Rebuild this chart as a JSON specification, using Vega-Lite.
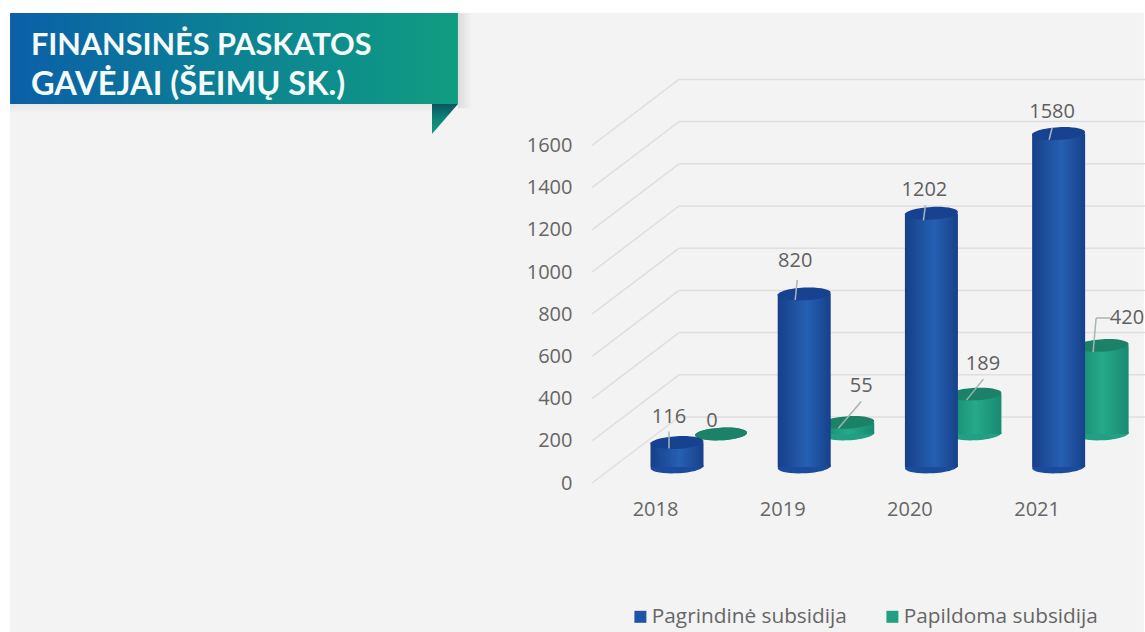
{
"$schema":"https://vega.github.io/schema/vega-lite/v6.json",
"width":1145,"height":632,"padding":0,
"autosize":"none",
"background":"#ffffff",
"config":{"view":{"stroke":null},"text":{"font":"Open Sans","fontSize":20,"fill":"#5f5f5f"}},
"data":{"values":[
{"year":2018,"series":"Pagrindinė subsidija","value":116},
{"year":2019,"series":"Pagrindinė subsidija","value":820},
{"year":2020,"series":"Pagrindinė subsidija","value":1202},
{"year":2021,"series":"Pagrindinė subsidija","value":1580},
{"year":2018,"series":"Papildoma subsidija","value":0},
{"year":2019,"series":"Papildoma subsidija","value":55},
{"year":2020,"series":"Papildoma subsidija","value":189},
{"year":2021,"series":"Papildoma subsidija","value":420}]},
"layer":[
{"data":{"values":[{"a":1}]},"mark":{"type":"rect","fill":"#f3f3f3"},"encoding":{"x":{"datum":2012.757,"type":"quantitative","scale":{"domain":[2012.678,2021.679],"nice":false,"zero":false,"padding":0},"axis":{"title":null,"grid":false,"domain":false,"ticks":false,"zindex":1,"values":[2018,2019,2020,2021],"format":"d","labelFont":"Open Sans","labelFontSize":20,"labelColor":"#666666","labelPadding":0,"labelOffset":-22,"offset":-133}},"x2":{"datum":2021.67},"y":{"datum":2151.7,"type":"quantitative","scale":{"domain":[-782,2213.3],"nice":false,"zero":false,"padding":0},"axis":{"title":null,"grid":false,"domain":false,"ticks":false,"zindex":1,"values":[0,200,400,600,800,1000,1200,1400,1600],"format":"d","labelFont":"Open Sans","labelFontSize":20,"labelColor":"#666666","labelPadding":0,"labelOffset":16,"offset":-572}},"y2":{"datum":-782}}},
{"data":{"values":[{"a":2}]},"mark":{"type":"rect","fill":{"gradient":"linear","x1":0,"y1":0,"x2":1,"y2":0,"stops":[{"offset":0,"color":"#dcdcdc"},{"offset":1,"color":"#f3f3f3"}]}},"encoding":{"x":{"datum":2016.278,"type":"quantitative"},"x2":{"datum":2016.388},"y":{"datum":2151.7,"type":"quantitative"},"y2":{"datum":1700}}},
{"data":{"values":[{"a":3}]},"mark":{"type":"rect","fill":{"gradient":"linear","x1":0,"y1":0,"x2":0,"y2":1,"stops":[{"offset":0,"color":"#e6e6e6"},{"offset":1,"color":"#f3f3f3"}]}},"encoding":{"x":{"datum":2012.757,"type":"quantitative"},"x2":{"datum":2016.074},"y":{"datum":1720.4,"type":"quantitative"},"y2":{"datum":1675}}},
{"data":{"values":[{"a":4}]},"mark":{"type":"rect","fill":{"gradient":"linear","x1":0,"y1":0,"x2":1,"y2":0,"stops":[{"offset":0,"color":"#0b5fa8"},{"offset":0.55,"color":"#0c8592"},{"offset":1,"color":"#109c81"}]}},"encoding":{"x":{"datum":2012.757,"type":"quantitative"},"x2":{"datum":2016.278},"y":{"datum":2151.7,"type":"quantitative"},"y2":{"datum":1720.4}}},
{"data":{"values":[{"a":5}]},"mark":{"type":"point","filled":true,"opacity":1,"strokeWidth":0,"size":676,"shape":"M-1,-1.15L1,-1.15L-1,1.15Z","fill":{"gradient":"linear","x1":0,"y1":0,"x2":0,"y2":1,"stops":[{"offset":0,"color":"#0a5560"},{"offset":0.5,"color":"#0d8478"},{"offset":1,"color":"#109c81"}]}},"encoding":{"x":{"datum":2016.176,"type":"quantitative"},"y":{"datum":1649.3,"type":"quantitative"}}},
{"data":{"values":[{"a":6}]},"mark":{"type":"text","text":"FINANSINĖS PASKATOS","font":"Lato","fontWeight":"bold","fontSize":30.6,"fill":"#f4fafa","align":"left","baseline":"alphabetic"},"encoding":{"x":{"datum":2012.921,"type":"quantitative"},"y":{"datum":1952.6,"type":"quantitative"}}},
{"data":{"values":[{"a":7}]},"mark":{"type":"text","text":"GAVĖJAI (ŠEIMŲ SK.)","font":"Lato","fontWeight":"bold","fontSize":32.6,"fill":"#f4fafa","align":"left","baseline":"alphabetic"},"encoding":{"x":{"datum":2012.921,"type":"quantitative"},"y":{"datum":1763,"type":"quantitative"}}},
{"data":{"values":[{"v":0},{"v":200},{"v":400},{"v":600},{"v":800},{"v":1000},{"v":1200},{"v":1400},{"v":1600}]},"mark":{"type":"rule","color":"#dfdfdf","strokeWidth":1.5,"yOffset":-50,"y2Offset":-50},"encoding":{"x":{"datum":2018.016,"type":"quantitative"},"x2":{"datum":2021.679},"y":{"field":"v","type":"quantitative"}}},
{"data":{"values":[{"v":0},{"v":200},{"v":400},{"v":600},{"v":800},{"v":1000},{"v":1200},{"v":1400},{"v":1600}]},"mark":{"type":"rule","color":"#dfdfdf","strokeWidth":1.5,"yOffset":16,"y2Offset":-50},"encoding":{"x":{"datum":2017.332,"type":"quantitative"},"x2":{"datum":2018.016},"y":{"field":"v","type":"quantitative"},"y2":{"field":"v"}}},
{"transform":[{"filter":"datum.series=='Papildoma subsidija'"}],"mark":{"type":"point","filled":true,"opacity":1,"strokeWidth":0,"size":2704,"xOffset":44,"yOffset":-33,"shape":"M-1,0.05A1,0.24,-3,1,0,1,-0.05A1,0.24,-3,1,0,-1,0.05Z"},"encoding":{"x":{"field":"year","type":"quantitative"},"y":{"datum":0,"type":"quantitative"},"color":{"field":"series","type":"nominal","sort":["Pagrindinė subsidija","Papildoma subsidija"],"scale":{"domain":["Pagrindinė subsidija","Papildoma subsidija"],"range":["#1f55a5","#21a082"]},"legend":{"orient":"none","legendX":630,"legendY":606,"direction":"horizontal","columns":2,"title":null,"padding":0,"symbolType":"square","symbolSize":144,"symbolStrokeWidth":0,"labelFont":"Open Sans","labelFontSize":20.8,"labelColor":"#666666","labelOffset":1,"labelLimit":400,"columnPadding":35}}}},
{"encoding":{"x":{"field":"year","type":"quantitative"},"y":{"field":"value","type":"quantitative"}},"layer":[
{"transform":[{"filter":"datum.series=='Papildoma subsidija'"}],"mark":{"type":"bar","orient":"vertical","width":52,"xOffset":44,"yOffset":-33,"y2Offset":-33,"fill":{"gradient":"linear","x1":0,"y1":0,"x2":1,"y2":0,"stops":[{"offset":0,"color":"#178a6d"},{"offset":0.5,"color":"#26a98a"},{"offset":1,"color":"#198a70"}]}},"encoding":{"y2":{"datum":0}}},
{"transform":[{"filter":"datum.series=='Papildoma subsidija'"}],"mark":{"type":"point","filled":true,"opacity":1,"strokeWidth":0,"size":2704,"xOffset":44,"yOffset":-33,"fill":"#1b8268","shape":"M-1,0.05A1,0.24,-3,1,0,1,-0.05A1,0.24,-3,1,0,-1,0.05Z"}}
]},
{"transform":[{"filter":"datum.series=='Pagrindinė subsidija'"}],"mark":{"type":"point","filled":true,"opacity":1,"strokeWidth":0,"size":2809,"fill":"#1a4b9c","shape":"M-1,0.05A1,0.24,-3,1,0,1,-0.05A1,0.24,-3,1,0,-1,0.05Z"},"encoding":{"x":{"field":"year","type":"quantitative"},"y":{"datum":0,"type":"quantitative"}}},
{"encoding":{"x":{"field":"year","type":"quantitative"},"y":{"field":"value","type":"quantitative"}},"layer":[
{"transform":[{"filter":"datum.series=='Pagrindinė subsidija'"}],"mark":{"type":"bar","orient":"vertical","width":53,"fill":{"gradient":"linear","x1":0,"y1":0,"x2":1,"y2":0,"stops":[{"offset":0,"color":"#173f88"},{"offset":0.55,"color":"#2560b2"},{"offset":1,"color":"#17418a"}]}},"encoding":{"y2":{"datum":0}}},
{"transform":[{"filter":"datum.series=='Pagrindinė subsidija'"}],"mark":{"type":"point","filled":true,"opacity":1,"strokeWidth":0,"size":2809,"fill":"#16428f","shape":"M-1,0.05A1,0.24,-3,1,0,1,-0.05A1,0.24,-3,1,0,-1,0.05Z"}},
{"transform":[{"filter":"datum.series=='Pagrindinė subsidija' && datum.year==2018"}],"mark":{"type":"rule","color":"#aab4bc","strokeWidth":1.5,"xOffset":-8,"x2Offset":-8,"yOffset":-11,"y2Offset":6},"encoding":{"x2":{"field":"year"},"y2":{"field":"value"}}},
{"transform":[{"filter":"datum.series=='Pagrindinė subsidija' && datum.year==2019"}],"mark":{"type":"rule","color":"#aab4bc","strokeWidth":1.5,"xOffset":-7,"x2Offset":-9,"yOffset":-14,"y2Offset":6},"encoding":{"x2":{"field":"year"},"y2":{"field":"value"}}},
{"transform":[{"filter":"datum.series=='Pagrindinė subsidija' && datum.year==2020"}],"mark":{"type":"rule","color":"#aab4bc","strokeWidth":1.5,"xOffset":-6,"x2Offset":-8,"yOffset":-8,"y2Offset":7},"encoding":{"x2":{"field":"year"},"y2":{"field":"value"}}},
{"transform":[{"filter":"datum.series=='Pagrindinė subsidija' && datum.year==2021"}],"mark":{"type":"rule","color":"#aab4bc","strokeWidth":1.5,"xOffset":-6.5,"x2Offset":-9.5,"yOffset":-6,"y2Offset":6},"encoding":{"x2":{"field":"year"},"y2":{"field":"value"}}},
{"transform":[{"filter":"datum.series=='Papildoma subsidija' && datum.year==2019"}],"mark":{"type":"rule","color":"#9fb5ad","strokeWidth":1.5,"xOffset":57,"x2Offset":34,"yOffset":-54,"y2Offset":-27},"encoding":{"x2":{"field":"year"},"y2":{"field":"value"}}},
{"transform":[{"filter":"datum.series=='Papildoma subsidija' && datum.year==2020"}],"mark":{"type":"rule","color":"#9fb5ad","strokeWidth":1.5,"xOffset":52,"x2Offset":35,"yOffset":-48,"y2Offset":-27},"encoding":{"x2":{"field":"year"},"y2":{"field":"value"}}},
{"transform":[{"filter":"datum.series=='Papildoma subsidija' && datum.year==2021"}],"mark":{"type":"rule","color":"#a8b5b0","strokeWidth":1.5,"xOffset":37.5,"x2Offset":34.5,"yOffset":-60.4,"y2Offset":-26.4},"encoding":{"x2":{"field":"year"},"y2":{"field":"value"}}},
{"transform":[{"filter":"datum.series=='Papildoma subsidija' && datum.year==2021"}],"mark":{"type":"rule","color":"#a8b5b0","strokeWidth":1.5,"xOffset":37.5,"x2Offset":51.5,"yOffset":-60.4,"y2Offset":-60.4},"encoding":{"x2":{"field":"year"},"y2":{"field":"value"}}},
{"transform":[{"filter":"datum.series=='Pagrindinė subsidija' && datum.year==2018"}],"mark":{"type":"text","dx":-8,"dy":-25.5},"encoding":{"text":{"field":"value","type":"quantitative"}}},
{"transform":[{"filter":"datum.series=='Pagrindinė subsidija' && datum.year==2019"}],"mark":{"type":"text","dx":-9,"dy":-33},"encoding":{"text":{"field":"value","type":"quantitative"}}},
{"transform":[{"filter":"datum.series=='Pagrindinė subsidija' && datum.year==2020"}],"mark":{"type":"text","dx":-7,"dy":-23.4},"encoding":{"text":{"field":"value","type":"quantitative","format":"d"}}},
{"transform":[{"filter":"datum.series=='Pagrindinė subsidija' && datum.year==2021"}],"mark":{"type":"text","dx":-6.5,"dy":-21.6},"encoding":{"text":{"field":"value","type":"quantitative","format":"d"}}},
{"transform":[{"filter":"datum.series=='Papildoma subsidija' && datum.year==2018"}],"mark":{"type":"text","dx":35,"dy":-46},"encoding":{"text":{"field":"value","type":"quantitative"}}},
{"transform":[{"filter":"datum.series=='Papildoma subsidija' && datum.year==2019"}],"mark":{"type":"text","dx":57,"dy":-69.4},"encoding":{"text":{"field":"value","type":"quantitative"}}},
{"transform":[{"filter":"datum.series=='Papildoma subsidija' && datum.year==2020"}],"mark":{"type":"text","dx":51.6,"dy":-63},"encoding":{"text":{"field":"value","type":"quantitative"}}},
{"transform":[{"filter":"datum.series=='Papildoma subsidija' && datum.year==2021"}],"mark":{"type":"text","dx":68.4,"dy":-60.4},"encoding":{"text":{"field":"value","type":"quantitative"}}}
]}
]
}
